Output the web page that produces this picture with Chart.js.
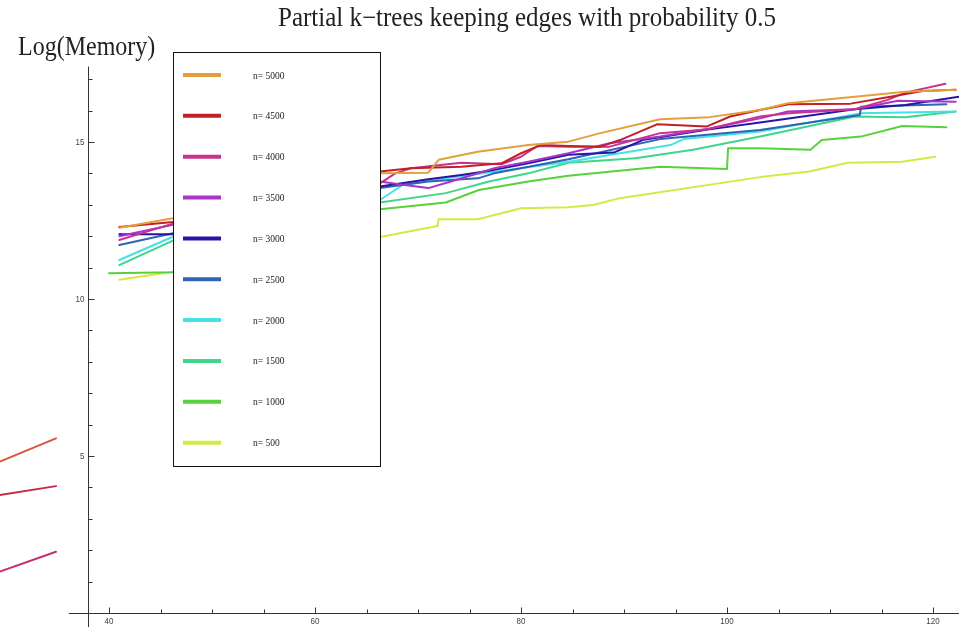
<!DOCTYPE html>
<html>
<head>
<meta charset="utf-8">
<script src="https://cdn.jsdelivr.net/npm/chart.js@4.4.1/dist/chart.umd.min.js"></script>
<style>
  html, body { margin: 0; padding: 0; background: #fff; }
  #wrap { position: relative; width: 959px; height: 627px; }
</style>
</head>
<body>
<div id="wrap"><canvas id="chart"></canvas></div>
<script>
// values: [k, log(memory)]
const n5000 = [[41,12.27],[46.2,12.57],[66.3,14.0],[71,14.02],[72,14.43],[75.8,14.69],[80.7,14.9],[84.6,15.01],[87.7,15.28],[93.5,15.72],[98.3,15.79],[103.2,16.02],[105.9,16.23],[112.4,16.44],[117.3,16.6],[122.2,16.66]];
const n4500 = [[41,12.29],[46.2,12.45],[66.3,14.06],[69.3,14.16],[74.2,14.21],[78.1,14.32],[80,14.64],[81.9,14.9],[84.6,14.87],[87.7,14.85],[89.6,15.06],[93.2,15.56],[98,15.49],[100.3,15.81],[103.2,16.02],[106,16.2],[112,16.22],[116,16.45],[119,16.62],[122.2,16.66]];
const n4000 = [[41,11.88],[46.2,12.4],[66.3,13.68],[67.8,14.0],[69.3,14.16],[74.2,14.34],[78.1,14.29],[80,14.53],[81.6,14.87],[84.6,14.85],[88.6,14.85],[93.5,15.28],[98,15.4],[103.2,15.81],[106,15.91],[112.4,16.04],[115.6,16.34],[117.3,16.57],[121.2,16.85]];
const n3500 = [[41,12.0],[46.2,12.36],[66.3,13.74],[68.7,13.63],[71,13.53],[73.2,13.74],[77.4,14.16],[80.7,14.37],[84.6,14.64],[88.6,14.96],[93.5,15.17],[98.3,15.43],[103.2,15.75],[105.9,15.97],[112.4,16.04],[116.6,16.31],[122.2,16.28]];
const n3000 = [[41,12.06],[46.2,12.06],[66.3,13.58],[71,13.81],[74.2,13.95],[77.4,14.11],[80.7,14.32],[84.6,14.59],[89,14.66],[91.8,15.06],[98.3,15.4],[103.2,15.62],[112.4,16.04],[117.3,16.18],[122.5,16.44]];
const n2500 = [[41,11.72],[46.2,12.09],[66.3,13.53],[71,13.74],[75.8,13.84],[77.4,14.0],[84.6,14.45],[93.5,15.09],[103.2,15.38],[112.9,15.86],[113,16.12],[121.3,16.2]];
const n2000 = [[41,11.24],[46.2,11.98],[66.3,13.15],[68.5,13.63],[72.7,13.84],[77.4,14.05],[84.6,14.37],[94.5,14.9],[95.8,15.09],[103.2,15.33],[112.9,15.91],[122.2,15.97]];
const n1500 = [[41,11.08],[46.2,11.86],[66.3,13.07],[72.7,13.37],[76.9,13.74],[80.7,14.0],[84.6,14.34],[91.1,14.48],[96.7,14.75],[103.2,15.17],[112.4,15.81],[117.3,15.79],[122.2,15.97]];
const n1000 = [[40,10.82],[46.2,10.85],[66.3,12.86],[72.7,13.07],[75.9,13.47],[80.7,13.74],[84.6,13.92],[93.5,14.21],[100,14.14],[100.1,14.8],[103.2,14.8],[108.1,14.75],[109.2,15.06],[113,15.17],[117,15.51],[121.3,15.47]];
const n500 = [[41,10.61],[46.2,10.87],[66.3,11.97],[71.9,12.32],[72,12.54],[75.8,12.54],[80,12.89],[84.6,12.92],[87,12.99],[89.6,13.21],[103.2,13.88],[108,14.06],[111.7,14.34],[117,14.37],[120.2,14.53]];
// stray segments at the lower left
const strayA = [[29.4,4.82],[34.85,5.56]];
const strayB = [[29.4,3.76],[34.85,4.04]];
const strayC = [[29.4,1.32],[34.85,1.95]];

const xMajor = [40, 60, 80, 100, 120];
const xMinor = [45, 50, 55, 65, 70, 75, 85, 90, 95, 105, 110, 115];
const yMajor = [5, 10, 15];
const yMinor = [1, 2, 3, 4, 6, 7, 8, 9, 11, 12, 13, 14, 16, 17];

const series = [
  { label: "n= 5000", color: "#e3a03a", pts: n5000 },
  { label: "n= 4500", color: "#c41e26", pts: n4500 },
  { label: "n= 4000", color: "#c7338e", pts: n4000 },
  { label: "n= 3500", color: "#a834c8", pts: n3500 },
  { label: "n= 3000", color: "#2a14a8", pts: n3000 },
  { label: "n= 2500", color: "#2d64b4", pts: n2500 },
  { label: "n= 2000", color: "#44e2e4", pts: n2000 },
  { label: "n= 1500", color: "#3dd68c", pts: n1500 },
  { label: "n= 1000", color: "#58d23c", pts: n1000 },
  { label: "n= 500", color: "#d4ea44", pts: n500 },
];
const strays = [
  { color: "#d9553b", pts: strayA },
  { color: "#c42a4a", pts: strayB },
  { color: "#c82e70", pts: strayC },
];

const toXY = (pts) => pts.map(([a, b]) => ({ x: a, y: b }));
const datasets = series.map((s) => ({ label: s.label, data: toXY(s.pts), borderColor: s.color, borderWidth: 2 }))
  .concat(strays.map((s) => ({ label: "", data: toXY(s.pts), borderColor: s.color, borderWidth: 2 })));

function text(ctx, s, px, py, font, align, base, stretch = 1.15) {
  ctx.save();
  ctx.translate(px, py);
  ctx.scale(1, stretch);
  ctx.font = font;
  ctx.textAlign = align;
  ctx.textBaseline = base;
  ctx.fillText(s, 0, 0);
  ctx.restore();
}

const frame = {
  id: "frame",
  afterDatasetsDraw(chart) {
    const { ctx, scales: { x, y } } = chart;
    ctx.save();
    ctx.strokeStyle = "#333";
    ctx.fillStyle = "#333";
    ctx.lineWidth = 1;
    const ax = Math.round(x.getPixelForValue(37.96)) + 0.5;
    const ay = Math.round(y.getPixelForValue(0)) + 0.5;
    ctx.beginPath();
    ctx.moveTo(x.getPixelForValue(36.1), ay); ctx.lineTo(chart.width, ay);
    ctx.moveTo(ax, y.getPixelForValue(17.4)); ctx.lineTo(ax, chart.height);
    xMajor.forEach((v) => { const p = Math.round(x.getPixelForValue(v)) + 0.5; ctx.moveTo(p, ay); ctx.lineTo(p, ay - 6); });
    xMinor.forEach((v) => { const p = Math.round(x.getPixelForValue(v)) + 0.5; ctx.moveTo(p, ay); ctx.lineTo(p, ay - 4); });
    yMajor.forEach((v) => { const p = Math.round(y.getPixelForValue(v)) + 0.5; ctx.moveTo(ax, p); ctx.lineTo(ax + 6, p); });
    yMinor.forEach((v) => { const p = Math.round(y.getPixelForValue(v)) + 0.5; ctx.moveTo(ax, p); ctx.lineTo(ax + 4, p); });
    ctx.stroke();
    ctx.fillStyle = "#444";
    xMajor.forEach((v) => text(ctx, String(v), x.getPixelForValue(v), ay + 3, "8px 'Liberation Sans'", "center", "top"));
    yMajor.forEach((v) => text(ctx, String(v), ax - 4, y.getPixelForValue(v) - 4, "8px 'Liberation Sans'", "right", "top"));

    // titles
    ctx.fillStyle = "#222";
    text(ctx, "Partial k\u2212trees keeping edges with probability 0.5", 527, 26, "25px 'Liberation Serif'", "center", "alphabetic", 1.07);
    text(ctx, "Log(Memory)", 18, 55, "24px 'Liberation Serif'", "left", "alphabetic", 1.1);

    // legend box
    const bx = 173.5, by = 52.5, bw = 207, bh = 414;
    ctx.fillStyle = "#fff";
    ctx.fillRect(bx, by, bw, bh);
    ctx.strokeStyle = "#111";
    ctx.strokeRect(bx, by, bw, bh);
    series.forEach((s, i) => {
      const ly = 75 + i * 40.85;
      ctx.strokeStyle = s.color;
      ctx.lineWidth = 4;
      ctx.beginPath(); ctx.moveTo(183, ly); ctx.lineTo(221, ly); ctx.stroke();
      ctx.fillStyle = "#222";
      text(ctx, s.label, 253, ly + 3.5, "9.5px 'Liberation Serif'", "left", "alphabetic", 1.1);
    });
    ctx.restore();
  },
};

new Chart(document.getElementById("chart"), {
  type: "line",
  data: { datasets },
  options: {
    responsive: true,
    maintainAspectRatio: false,
    animation: false,
    layout: { padding: 0 },
    elements: { point: { radius: 0 }, line: { tension: 0, fill: false, borderCapStyle: "round", borderJoinStyle: "round" } },
    plugins: { legend: { display: false }, tooltip: { enabled: false }, title: { display: false } },
    scales: {
      x: { type: "linear", display: false, min: 29.417, max: 122.52 },
      y: { type: "linear", display: false, min: -0.446, max: 19.52 },
    },
  },
  plugins: [frame],
});
</script>
</body>
</html>
